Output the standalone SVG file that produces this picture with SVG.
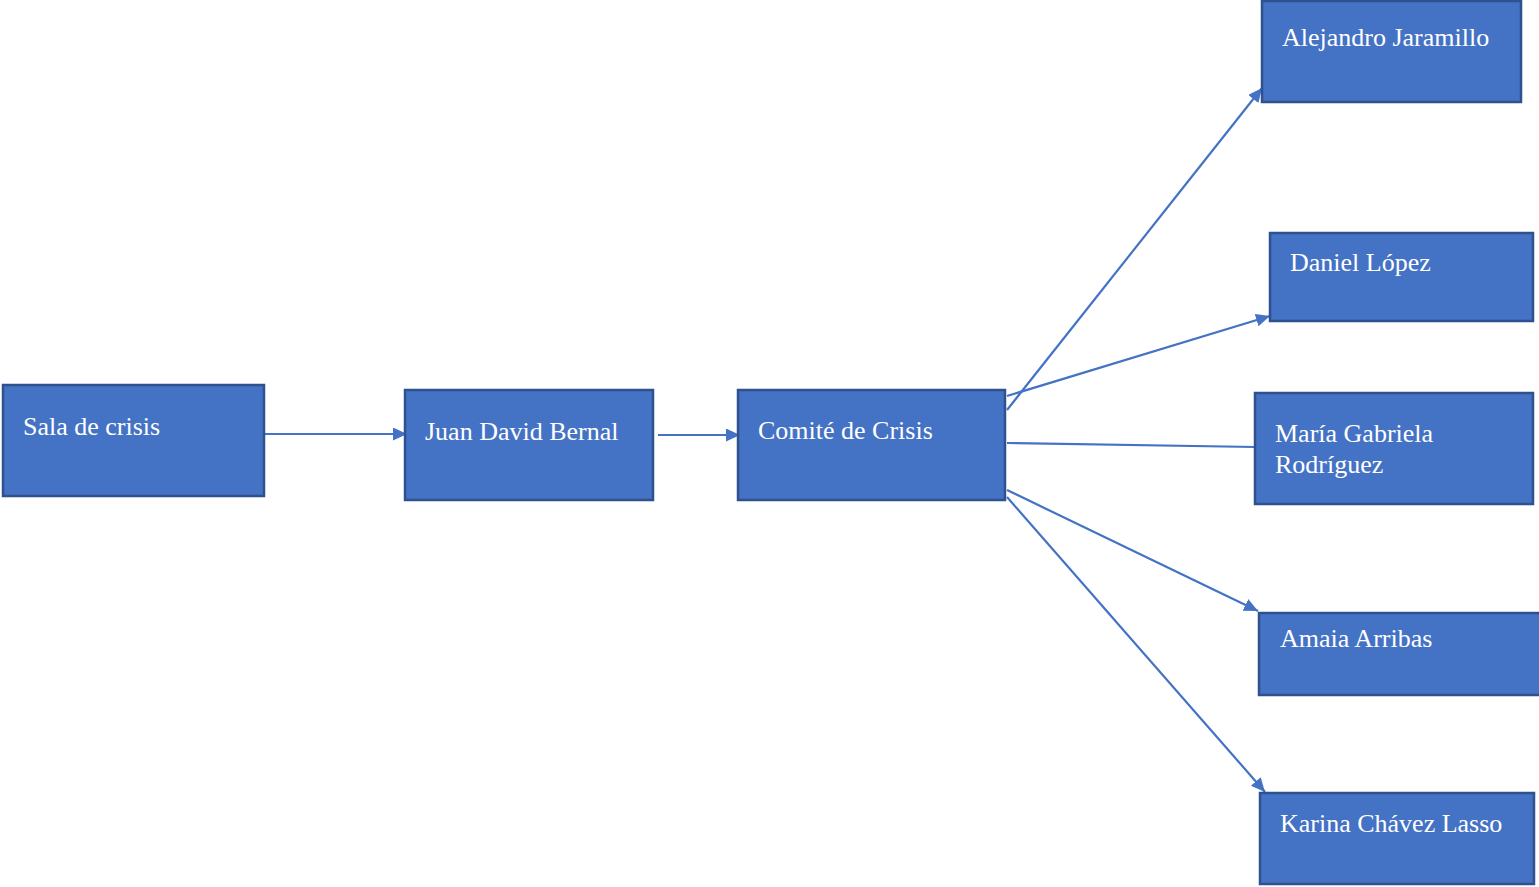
<svg xmlns="http://www.w3.org/2000/svg" width="1539" height="887" viewBox="0 0 1539 887">
<style>
.box{fill:#4472C4;stroke:#2F528F;stroke-width:2.5}
.lbl{font-family:"Liberation Serif","Times New Roman",serif;font-size:26px;fill:#ffffff}
.con{stroke:#4472C4;stroke-width:2.2;fill:none}
</style>
<defs>
<marker id="arr" markerUnits="userSpaceOnUse" markerWidth="16" markerHeight="14" refX="14" refY="6.5" orient="auto">
<path d="M0,0 L14,6.5 L0,13 Z" fill="#4472C4"/>
</marker>
</defs>
<rect width="1539" height="887" fill="#ffffff"/>
<g id="connectors">
<line class="con" x1="265" y1="434" x2="407" y2="434" marker-end="url(#arr)"/>
<line class="con" x1="658" y1="435" x2="740" y2="435" marker-end="url(#arr)"/>
<line class="con" x1="1007" y1="410" x2="1262" y2="88" marker-end="url(#arr)"/>
<line class="con" x1="1007" y1="396" x2="1270" y2="316" marker-end="url(#arr)"/>
<line class="con" x1="1007" y1="443" x2="1255" y2="447"/>
<line class="con" x1="1007" y1="490" x2="1258" y2="611" marker-end="url(#arr)"/>
<line class="con" x1="1007" y1="497" x2="1265" y2="792" marker-end="url(#arr)"/>
</g>
<g id="sala">
<rect class="box" x="3" y="385" width="261" height="111"/>
<text class="lbl" x="23" y="435">Sala de crisis</text>
</g>
<g id="juan">
<rect class="box" x="405" y="390" width="248" height="110"/>
<text class="lbl" x="425" y="440">Juan David Bernal</text>
</g>
<g id="comite">
<rect class="box" x="738" y="390" width="267" height="110"/>
<text class="lbl" x="758" y="439">Comité de Crisis</text>
</g>
<g id="alejandro">
<rect class="box" x="1262" y="1" width="259" height="101"/>
<text class="lbl" x="1282" y="46">Alejandro Jaramillo</text>
</g>
<g id="daniel">
<rect class="box" x="1270" y="233" width="263" height="88"/>
<text class="lbl" x="1290" y="271">Daniel López</text>
</g>
<g id="maria">
<rect class="box" x="1255" y="393" width="278" height="111"/>
<text class="lbl" x="1275" y="442">María Gabriela</text>
<text class="lbl" x="1275" y="473">Rodríguez</text>
</g>
<g id="amaia">
<rect class="box" x="1259" y="613" width="282" height="82"/>
<text class="lbl" x="1280" y="647">Amaia Arribas</text>
</g>
<g id="karina">
<rect class="box" x="1260" y="793" width="274" height="91"/>
<text class="lbl" x="1280" y="832">Karina Chávez Lasso</text>
</g>
</svg>
